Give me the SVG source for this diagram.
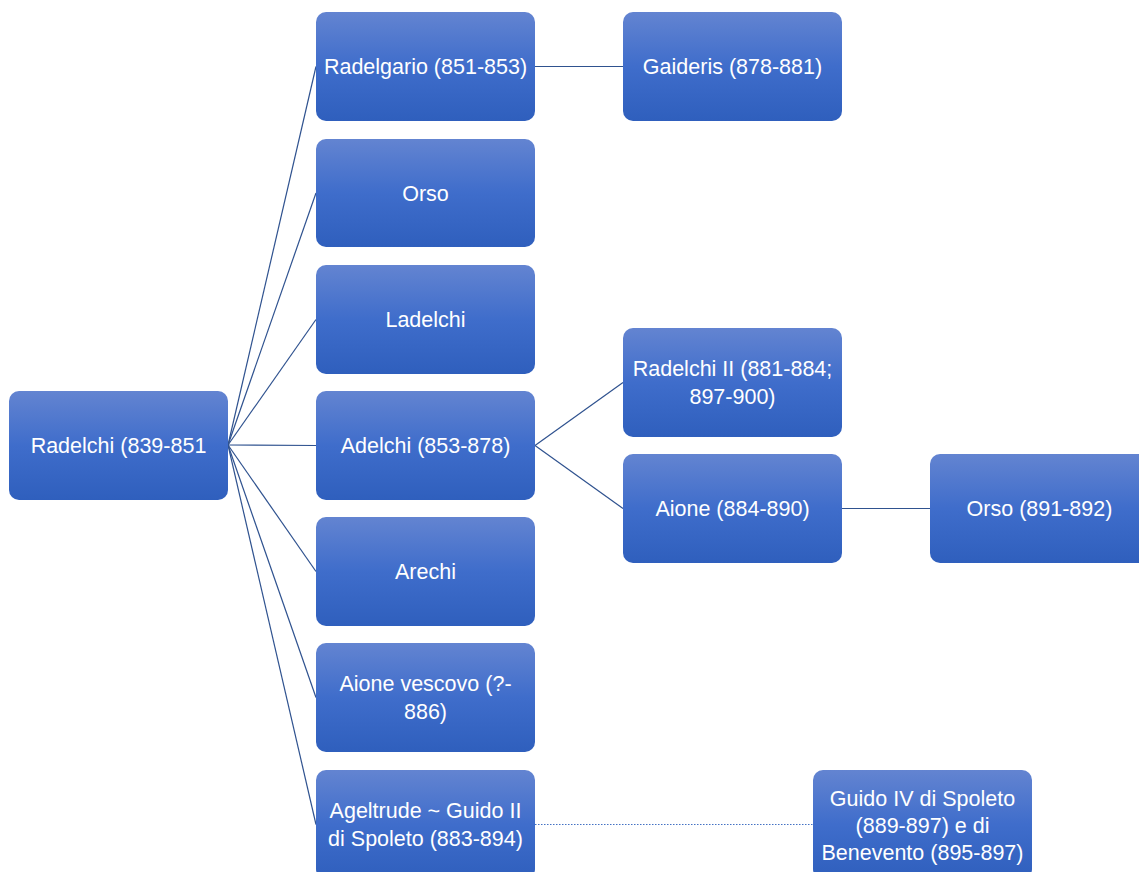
<svg xmlns="http://www.w3.org/2000/svg" width="1139" height="872" viewBox="0 0 1139 872">
<defs>
<linearGradient id="g" x1="0" y1="0" x2="0" y2="1">
<stop offset="0" stop-color="#6384d1"/>
<stop offset="0.5" stop-color="#3f6dcb"/>
<stop offset="1" stop-color="#2f5fbd"/>
</linearGradient>
</defs>
<style>
.n rect{fill:url(#g);}
.n text{fill:#fff;font-family:"Liberation Sans","Open Sans",sans-serif;font-size:21.5px;text-anchor:middle;}
.c line{stroke:#2f528f;stroke-width:1.2;fill:none;}
.c .d{stroke:#4472c4;stroke-dasharray:1.5 1.5;}
</style>
<rect width="1139" height="872" fill="#fff"/>
<g class="c">
<line x1="228" y1="445" x2="316" y2="66.5"/>
<line x1="228" y1="445" x2="316" y2="193"/>
<line x1="228" y1="445" x2="316" y2="319.5"/>
<line x1="228" y1="445" x2="316" y2="445.5"/>
<line x1="228" y1="445" x2="316" y2="571.5"/>
<line x1="228" y1="445" x2="316" y2="697.5"/>
<line x1="228" y1="445" x2="316" y2="824.5"/>
<line x1="535" y1="66.5" x2="623" y2="66.5"/>
<line x1="535" y1="445.5" x2="623" y2="382.5"/>
<line x1="535" y1="445.5" x2="623" y2="508.5"/>
<line x1="842" y1="508.5" x2="930" y2="508.5"/>
<line class="d" x1="535" y1="824.5" x2="813" y2="824.5"/>
</g>
<g id="n-radelchi" class="n"><rect x="9" y="391" width="219" height="109" rx="10"/><text x="118.5" y="453">Radelchi (839-851</text></g>
<g id="n-radelgario" class="n"><rect x="316" y="12" width="219" height="109" rx="10"/><text x="425.5" y="74">Radelgario (851-853)</text></g>
<g id="n-orso" class="n"><rect x="316" y="139" width="219" height="108" rx="10"/><text x="425.5" y="200.5">Orso</text></g>
<g id="n-ladelchi" class="n"><rect x="316" y="265" width="219" height="109" rx="10"/><text x="425.5" y="327">Ladelchi</text></g>
<g id="n-adelchi" class="n"><rect x="316" y="391" width="219" height="109" rx="10"/><text x="425.5" y="453">Adelchi (853-878)</text></g>
<g id="n-arechi" class="n"><rect x="316" y="517" width="219" height="109" rx="10"/><text x="425.5" y="579">Arechi</text></g>
<g id="n-aione-vescovo" class="n"><rect x="316" y="643" width="219" height="109" rx="10"/><text x="425.5" y="691">Aione vescovo (?-</text><text x="425.5" y="719">886)</text></g>
<g id="n-ageltrude" class="n"><rect x="316" y="770" width="219" height="109" rx="10"/><text x="425.5" y="818">Ageltrude ~ Guido II</text><text x="425.5" y="846">di Spoleto (883-894)</text></g>
<g id="n-gaideris" class="n"><rect x="623" y="12" width="219" height="109" rx="10"/><text x="732.5" y="74">Gaideris (878-881)</text></g>
<g id="n-radelchi2" class="n"><rect x="623" y="328" width="219" height="109" rx="10"/><text x="732.5" y="376">Radelchi II (881-884;</text><text x="732.5" y="404">897-900)</text></g>
<g id="n-aione" class="n"><rect x="623" y="454" width="219" height="109" rx="10"/><text x="732.5" y="516">Aione (884-890)</text></g>
<g id="n-orso2" class="n"><rect x="930" y="454" width="219" height="109" rx="10"/><text x="1039.5" y="516">Orso (891-892)</text></g>
<g id="n-guido4" class="n"><rect x="813" y="770" width="219" height="109" rx="10"/><text x="922.5" y="806">Guido IV di Spoleto</text><text x="922.5" y="833">(889-897) e di</text><text x="922.5" y="860">Benevento (895-897)</text></g>
</svg>
